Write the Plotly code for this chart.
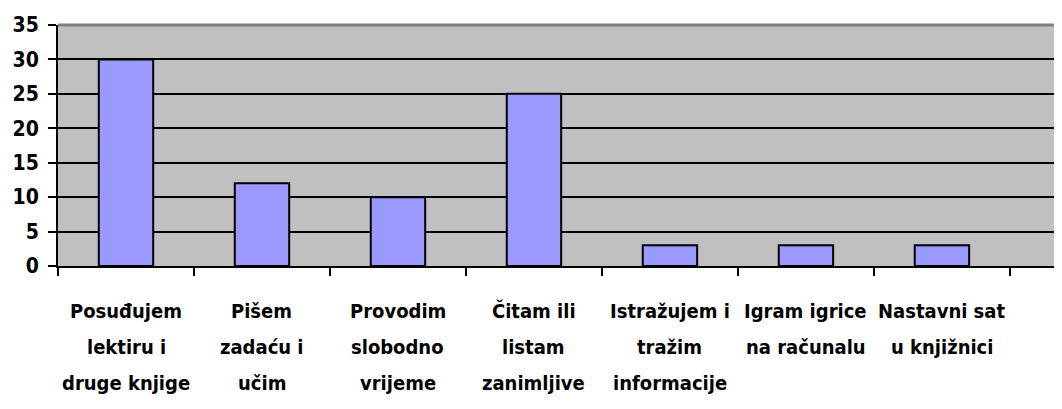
import plotly.graph_objects as go

categories = [
    "Posuđujem<br>lektiru i<br>druge knjige",
    "Pišem<br>zadaću i<br>učim",
    "Provodim<br>slobodno<br>vrijeme",
    "Čitam ili<br>listam<br>zanimljive",
    "Istražujem i<br>tražim<br>informacije",
    "Igram igrice<br>na računalu",
    "Nastavni sat<br>u knjižnici",
]
values = [30, 12, 10, 25, 3, 3, 3]
y_ticks = [0, 5, 10, 15, 20, 25, 30, 35]

FONT = "DejaVu Sans Condensed, Liberation Sans Narrow, sans-serif"

fig = go.Figure()
fig.add_trace(go.Bar(
    x=categories, y=values, width=0.4,
    marker=dict(color="#9999FF", line=dict(color="black", width=2)),
))

annotations = []
for cat in categories:
    for i, line in enumerate(cat.split("<br>")):
        annotations.append(dict(
            x=cat, y=0, xref="x", yref="paper", text=f"<b>{line}</b>",
            showarrow=False, xanchor="center", yanchor="middle",
            yshift=-45 - 36 * i,
            font=dict(family=FONT, size=20, color="black"),
        ))

fig.update_layout(
    width=1046, height=393,
    margin=dict(l=50, r=0, t=17, b=135),
    paper_bgcolor="white", plot_bgcolor="#C0C0C0",
    showlegend=False,
    annotations=annotations,
    shapes=[dict(type="line", xref="paper", yref="paper", x0=0, x1=1, y0=1, y1=1,
                 line=dict(color="#808080", width=3))],
    xaxis=dict(
        type="category", range=[-0.5, 6.824], showticklabels=False, automargin=False,
        tickson="boundaries", ticks="outside", ticklen=8, tickwidth=2, tickcolor="black",
        showgrid=False, showline=True, linecolor="black", linewidth=2, zeroline=False,
    ),
    yaxis=dict(
        range=[0, 35], tickvals=y_ticks, ticktext=[f"<b>{v}</b>" for v in y_ticks],
        automargin=False,
        ticks="outside", ticklen=8, tickwidth=2, tickcolor="black",
        showgrid=True, gridcolor="black", gridwidth=2,
        showline=True, linecolor="black", linewidth=2, zeroline=False,
        tickfont=dict(family=FONT, size=21, color="black"),
        ticklabelstandoff=5,
    ),
)

fig.write_html("out.html")
